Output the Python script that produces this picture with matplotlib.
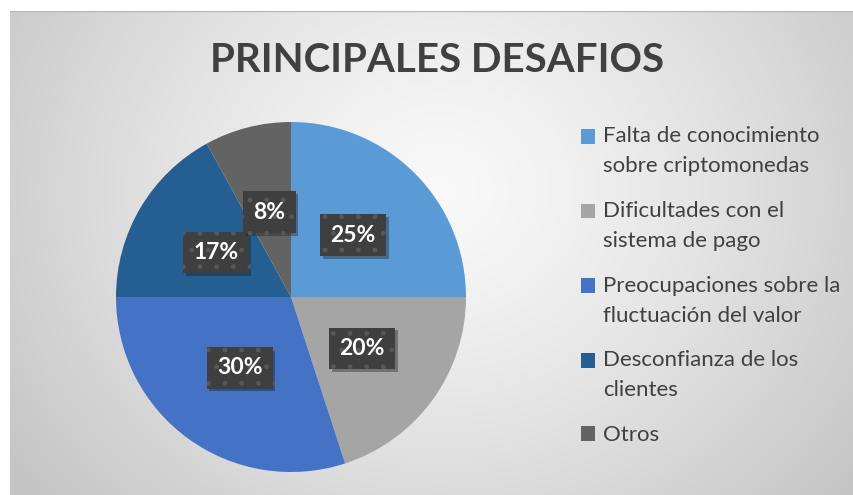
import numpy as np
import matplotlib
matplotlib.use("Agg")
from matplotlib import pyplot as plt
from matplotlib.patches import Patch, Rectangle
from matplotlib.legend_handler import HandlerPatch
import matplotlib.patheffects as pe

labels = ["Falta de conocimiento\nsobre criptomonedas",
          "Dificultades con el\nsistema de pago",
          "Preocupaciones sobre la\nfluctuación del valor",
          "Desconfianza de los\nclientes",
          "Otros"]
values = [25, 20, 30, 17, 8]
colors = ["#5B9BD5", "#A5A5A5", "#4472C4", "#255E91", "#636363"]
title = "PRINCIPALES DESAFIOS"

W, H = 854, 495
plt.rcParams['font.family'] = ['Lato', 'DejaVu Sans']
fig = plt.figure(figsize=(W / 100, H / 100), dpi=100)
fig.patch.set_facecolor("white")

# gradient background of the chart area
bg = fig.add_axes([10 / W, 0, (W - 10) / W, (H - 11) / H])
bg.set_axis_off()
yy, xx = np.mgrid[11:H, 10:W]
d = np.sqrt(((xx - 440) / 1.0) ** 2 + ((yy - 190) / 0.9) ** 2)
g = np.clip(d / 520, 0, 1)
shade = 0.975 - 0.2 * g ** 1.3
bg.imshow(np.dstack([shade] * 3), aspect="auto", extent=[0, 1, 0, 1], zorder=0)
bg.axhline(1, color="#b8b8b8", lw=1)
bg.set_xlim(0, 1)
bg.set_ylim(0, 1)

# pie, center (291, 297) px, radius 175 px
cx, cy, r = 291, 297, 175
ax = fig.add_axes([(cx - r) / W, (H - cy - r) / H, 2 * r / W, 2 * r / H])
wedges, texts, autotexts = ax.pie(values, colors=colors, startangle=90, counterclock=False,
                                  autopct="%1.0f%%", pctdistance=0.5, radius=1,
                                  wedgeprops=dict(linewidth=0))
ax.set_xlim(-1, 1)
ax.set_ylim(-1, 1)
plt.rcParams['hatch.linewidth'] = 1.0
for t in autotexts:
    t.set_color("white")
    t.set_fontsize(16.5)
    t.set_fontweight("bold")
    t.set_bbox(dict(boxstyle="square,pad=0.45", fc="#3f3f3f", ec="#585858", lw=0, hatch="."))
    t.get_bbox_patch().set_path_effects([pe.withSimplePatchShadow(offset=(2, -2), alpha=0.35),
                                         pe.Normal()])

fig.text(437 / W, 1 - 61 / H, title, ha="center", va="center", fontsize=29,
         fontweight="bold", color="#404040")


class TopHandler(HandlerPatch):
    def __init__(self, shift):
        super().__init__()
        self.shift = shift

    def create_artists(self, legend, orig_handle, xdescent, ydescent, width, height,
                       fontsize, trans):
        p = Rectangle((-xdescent, -ydescent + self.shift), width, height,
                      facecolor=orig_handle.get_facecolor(), edgecolor="none",
                      transform=trans)
        return [p]


fs = 16
handles = [Patch(facecolor=c, edgecolor="none") for c in colors]
hmap = {h: TopHandler(10.8 if "\n" in lab else 0) for h, lab in zip(handles, labels)}
leg = fig.legend(handles, labels, loc="upper left", bbox_to_anchor=(561 / W, 1 - 106 / H),
                 frameon=False, fontsize=fs, labelcolor="#404040", handlelength=0.65,
                 handleheight=0.65, handletextpad=0.35, labelspacing=1.12, handler_map=hmap)
for t in leg.get_texts():
    t.set_linespacing(1.62)

fig.savefig("out.png", dpi=100)
